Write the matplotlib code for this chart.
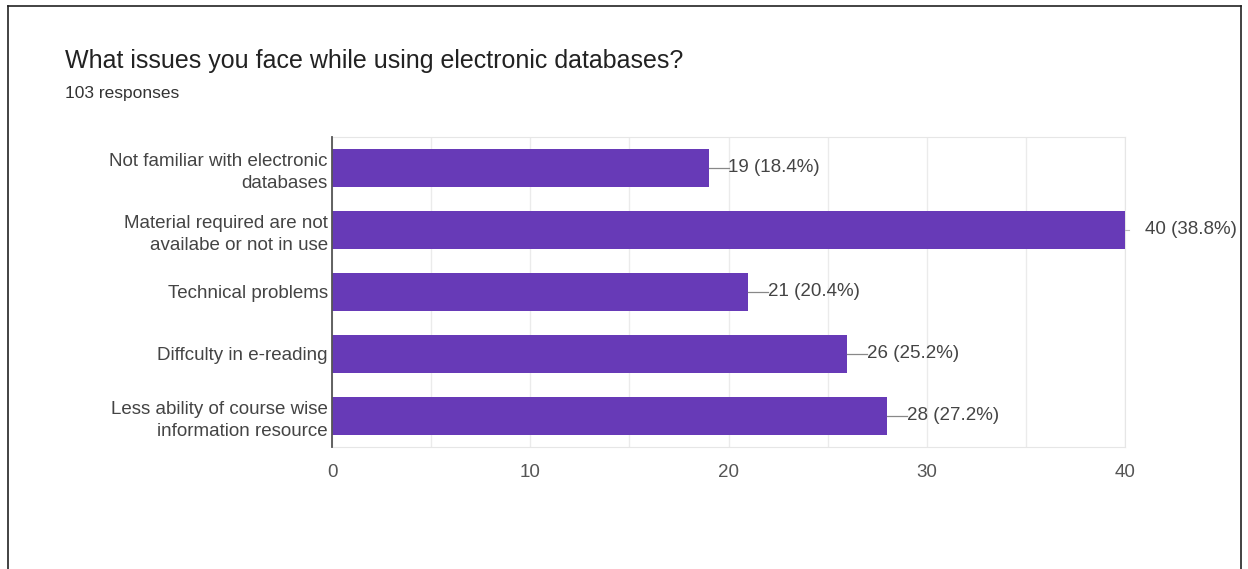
import matplotlib.pyplot as plt

# -----------------------------
# Survey data
# -----------------------------
categories = [
    "Not familiar with electronic\ndatabases",
    "Material required are not\navailabe or not in use",
    "Technical problems",
    "Diffculty in e-reading",
    "Less ability of course wise\ninformation resource",
]
counts = [19, 40, 21, 26, 28]
percents = [18.4, 38.8, 20.4, 25.2, 27.2]
x_ticks = [0, 10, 20, 30, 40]

bar_color = "#673ab7"
text_color = "#444444"

plt.rcParams["font.family"] = ["Liberation Sans", "DejaVu Sans"]

W, H = 1248, 569
fig = plt.figure(figsize=(W / 100, H / 100), dpi=100)


def fx(px):
    return px / W


def fy(py):
    return 1 - py / H


# outer card frame (open at the bottom)
frame = dict(transform=fig.transFigure, color="#222222", lw=1.2)
fig.add_artist(plt.Line2D([fx(8), fx(8)], [0, fy(6)], **frame))
fig.add_artist(plt.Line2D([fx(8), fx(1241)], [fy(6), fy(6)], **frame))
fig.add_artist(plt.Line2D([fx(1241), fx(1241)], [0, fy(6)], **frame))

fig.text(fx(65), fy(68), "What issues you face while using electronic databases?",
         fontsize=18, color="#222222", va="baseline", ha="left")
fig.text(fx(65), fy(98), "103 responses",
         fontsize=12.5, color="#333333", va="baseline", ha="left")

# plot area
ax = fig.add_axes([fx(332), fy(447), fx(1125) - fx(332), fy(137) - fy(447)])

y_pos = list(range(len(categories)))
ax.barh(y_pos, counts, height=0.61, color=bar_color, zorder=3)
ax.set_ylim(len(categories) - 0.5, -0.5)
ax.set_xlim(0, 40)

ax.set_yticks(y_pos)
ax.set_yticklabels(categories, fontsize=13.5, color=text_color, linespacing=1.35)
ax.set_xticks(x_ticks)
ax.set_xticklabels([str(t) for t in x_ticks], fontsize=13.5, color="#555555")
ax.set_xticks([5, 15, 25, 35], minor=True)
ax.tick_params(axis="y", length=0, pad=3)
ax.tick_params(axis="x", length=0, pad=12)
ax.tick_params(axis="x", which="minor", length=0)

ax.grid(axis="x", which="both", color="#ebebeb", lw=1, zorder=0)
for side in ["top", "bottom", "right"]:
    ax.spines[side].set_color("#e6e6e6")
ax.spines["left"].set_color("#555555")
ax.spines["left"].set_linewidth(1.3)
ax.spines["left"].set_zorder(4)

# value labels with short leader lines
for y, c, p in zip(y_pos, counts, percents):
    if c >= 40:
        ax.plot([c, c + 0.2], [y, y], color="#bbbbbb", lw=0.8, clip_on=False, zorder=4)
        ax.text(c + 1.0, y, f"{c} ({p}%)", fontsize=13.5, color=text_color,
                va="center", ha="left", clip_on=False)
    else:
        ax.plot([c, c + 1.0], [y, y], color="#888888", lw=0.9, zorder=4)
        ax.text(c + 1.0, y, f"{c} ({p}%)", fontsize=13.5, color=text_color,
                va="center", ha="left")

fig.savefig("out.png", dpi=100)
